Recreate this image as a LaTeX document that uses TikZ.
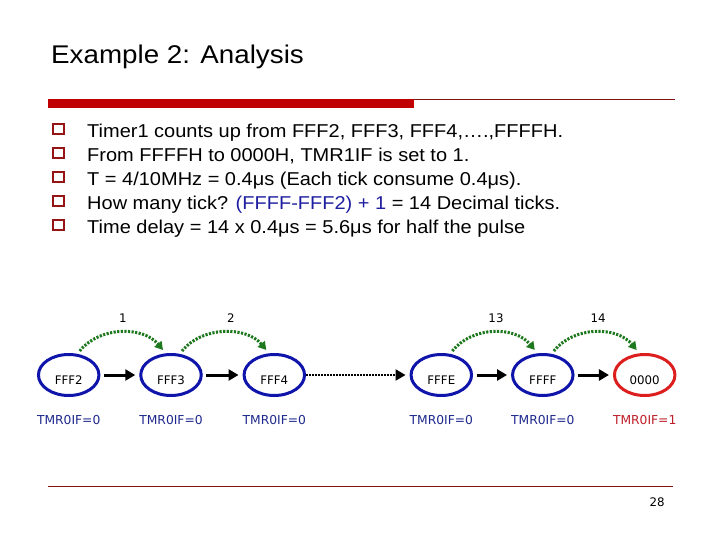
\documentclass[tikz,border=0pt]{standalone}
\usepackage{fontspec}
\setmainfont{Liberation Sans}
\newfontfamily\dv{DejaVu Sans}
\usetikzlibrary{shapes.geometric,arrows.meta,calc}
\definecolor{barred}{RGB}{192,0,0}
\definecolor{thinred}{RGB}{128,20,20}
\definecolor{bulred}{RGB}{150,20,20}
\definecolor{nodeblue}{RGB}{15,20,170}
\definecolor{nodered}{RGB}{220,30,30}
\definecolor{labblue}{RGB}{30,40,140}
\definecolor{labred}{RGB}{190,30,40}
\definecolor{txtblue}{RGB}{30,30,160}
\definecolor{arrgreen}{RGB}{30,120,30}
\tikzset{
  st/.style={ellipse, draw=nodeblue, line width=3pt, minimum width=60.5pt, minimum height=41pt,
    inner sep=0pt, font=\dv\fontsize{11.8}{12}\selectfont, text height=19.5pt, text depth=0pt},
  stred/.style={st, draw=nodered},
  lab/.style={font=\dv\fontsize{12.3}{13}\selectfont, inner sep=0pt},
  num/.style={font=\dv\fontsize{11.8}{12}\selectfont, inner sep=0pt},
  barr/.style={line width=3pt, -{Triangle[length=10pt,width=11pt]}, shorten <=3.5pt, shorten >=4pt},
  darr/.style={line width=2pt, dash pattern=on 2pt off 1pt, -{Triangle[length=10pt,width=11pt]}, shorten >=4pt},
  garr/.style={arrgreen, line width=3pt, dash pattern=on 2.2pt off 1.4pt, -{Triangle[length=8pt,width=9pt]}},
  bul/.style={draw=bulred, line width=1.9pt, minimum size=10.5pt, inner sep=0pt},
  btxt/.style={anchor=base west, inner sep=0pt, font=\fontsize{18.6}{22}\selectfont},
}
\newcommand{\sx}[1]{\scalebox{1.075}[1]{#1}}
\begin{document}
\begin{tikzpicture}[x=1pt,y=-1pt]
\useasboundingbox (0,0) rectangle (720,540);
% title
\node[anchor=base west, inner sep=0pt, font=\fontsize{25.6}{30}\selectfont] (title) at (51,63.3) {\scalebox{1.085}[1]{Example 2: Analysis}};
% header bars
\fill[barred] (48,99) rectangle (414,108.5);
\draw[thinred, line width=1pt] (414,99.5) -- (675,99.5);
% bullets
\foreach \i/\t in {0/{Timer1 counts up from FFF2, FFF3, FFF4,….,FFFFH.},
                   1/{From FFFFH to 0000H, TMR1IF is set to 1.},
                   2/{T = 4/10MHz = 0.4μs (Each tick consume 0.4μs).},
                   3/{How many tick? \textcolor{txtblue}{(FFFF-FFF2) + 1} = 14 Decimal ticks.},
                   4/{Time delay = 14 x 0.4μs = 5.6μs for half the pulse}}{
  \node[bul] (b\i) at (58.5,129+24*\i) {};
  \node[btxt] (t\i) at (87,137.3+24*\i) {\sx{\t}};
}
% states
\node[st] (n1) at (68.7,375) {FFF2};
\node[st] (n2) at (171,375) {FFF3};
\node[st] (n3) at (274.3,375) {FFF4};
\node[st] (n4) at (441.3,375) {FFFE};
\node[st] (n5) at (542.8,375) {FFFF};
\node[stred] (n6) at (644.7,375) {0000};
% transitions
\draw[barr] (n1) -- (n2);
\draw[barr] (n2) -- (n3);
\draw[darr] (n3) -- (n4);
\draw[barr] (n4) -- (n5);
\draw[barr] (n5) -- (n6);
% tick arrows
\foreach \a/\b in {n1/n2, n2/n3, n4/n5, n5/n6}{
  \draw[garr] ($(\a.center)+(11,-24)$) .. controls ($(\a.center)+(31,-49)$) and ($(\b.center)+(-28,-49)$) .. ($(\b.center)+(-8,-25)$);
}
\node[num] (k1) at (123,318) {1};
\node[num] (k2) at (231,318) {2};
\node[num] (k13) at (496,318) {13};
\node[num] (k14) at (598,318) {14};
% flags
\node[lab, text=labblue] (f1) at (68.7,420) {TMR0IF=0};
\node[lab, text=labblue] (f2) at (171,420) {TMR0IF=0};
\node[lab, text=labblue] (f3) at (274.3,420) {TMR0IF=0};
\node[lab, text=labblue] (f4) at (441.3,420) {TMR0IF=0};
\node[lab, text=labblue] (f5) at (542.8,420) {TMR0IF=0};
\node[lab, text=labred] (f6) at (644.7,420) {TMR0IF=1};
% footer
\draw[thinred, line width=1pt] (48,486) -- (673,486);
\node[num] (page) at (657,502) {28};
\end{tikzpicture}
\end{document}
